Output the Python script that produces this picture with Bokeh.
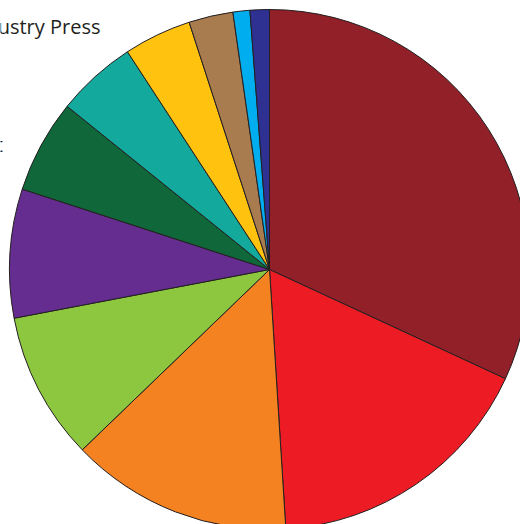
import numpy as np
from bokeh.plotting import figure
from bokeh.models import Range1d, ColumnDataSource
from bokeh.core.properties import value
from bokeh.embed import file_html
from bokeh.resources import INLINE

# Shares (percent), clockwise from 12 o'clock
categories = ["Newspapers", "Television", "Radio", "Magazines", "Online News",
              "Social Media", "Blogs", "Newsletters", "Industry Press",
              "Podcasts", "Other"]
shares = [31.9, 17.1, 13.8, 9.2, 8.0, 5.8, 5.0, 4.2, 2.75, 1.05, 1.2]
colors = ["#912029", "#ED1C24", "#F58220", "#8DC63F", "#662D91",
          "#10673A", "#14A99D", "#FFC20E", "#A97C50", "#00AEEF", "#2E3192"]

W, H = 520, 524
cx, cy, r = 269, H - 269, 260

frac = np.array(shares) / sum(shares)
cum = np.concatenate([[0], np.cumsum(frac)]) * 2 * np.pi
start = np.pi / 2 - cum[:-1]
end = np.pi / 2 - cum[1:]

src = ColumnDataSource(dict(cat=categories, start=start, end=end, color=colors,
                            x=[cx] * len(categories), y=[cy] * len(categories)))

p = figure(width=W, height=H, output_backend="svg", toolbar_location=None,
           x_range=Range1d(0, W), y_range=Range1d(0, H), min_border=0)
p.axis.visible = False
p.grid.visible = False
p.outline_line_color = None
p.background_fill_color = "white"
p.border_fill_color = "white"

p.wedge(x="x", y="y", radius=r, start_angle="start", end_angle="end",
        direction="clock", fill_color="color", line_color="#231F20",
        line_width=1, source=src)

p.text(x=[100, 2.5], y=[H - 26, H - 144], text=["Industry Press", "Internet"],
       text_align="right", text_baseline="alphabetic",
       text_font=value("Open Sans"), text_font_size="20px", text_color="#231F20")

open("out.html", "w").write(file_html(p, INLINE))
